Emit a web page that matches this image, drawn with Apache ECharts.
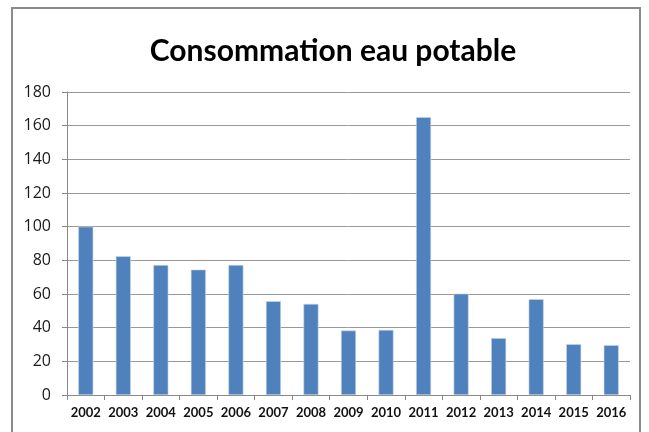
<!DOCTYPE html>
<html><head><meta charset="utf-8">
<script src="https://cdn.jsdelivr.net/npm/echarts@6/dist/echarts.min.js"></script>
<style>html,body{margin:0;padding:0;background:#fff}#c{width:649px;height:432px}</style>
</head><body><div id="c"></div>
<script>
var years = ['2002','2003','2004','2005','2006','2007','2008','2009','2010','2011','2012','2013','2014','2015','2016'];
var consommation = [100, 82.4, 77.2, 74.5, 77.2, 55.7, 54.1, 38.3, 38.7, 165.1, 60.2, 33.8, 56.9, 30.2, 29.6];
var yTicks = [0, 20, 40, 60, 80, 100, 120, 140, 160, 180];

var chart = echarts.init(document.getElementById('c'), null, {renderer: 'canvas'});
chart.setOption({
  animation: false,
  backgroundColor: '#fff',
  title: {
    text: 'Consommation eau potable',
    left: 328, top: 31, textAlign: 'center',
    textStyle: {fontFamily: 'Lato', fontWeight: 'bold', fontSize: 30, color: '#000'}
  },
  graphic: [{
    type: 'rect', shape: {x: 12, y: 8, width: 628, height: 440},
    style: {fill: 'none', stroke: '#8a8a8a', lineWidth: 2}, silent: true
  }],
  grid: {left: 67, right: 19, top: 92, bottom: 37, containLabel: false},
  xAxis: {
    type: 'category', data: years,
    axisLine: {lineStyle: {color: '#888', width: 1}},
    axisTick: {show: true, alignWithLabel: false, length: 5, lineStyle: {color: '#888'}},
    axisLabel: {interval: 0, hideOverlap: false, fontFamily: 'Lato', fontWeight: 'bold', fontSize: 13, color: '#111', margin: 11}
  },
  yAxis: {
    type: 'value', min: 0, max: 180, interval: 20,
    axisLine: {show: true, lineStyle: {color: '#888'}},
    axisTick: {show: true, length: 5, lineStyle: {color: '#888'}},
    axisLabel: {fontFamily: 'Open Sans', fontSize: 16, color: '#1a1a1a', margin: 16,
      formatter: function (v) { return yTicks.indexOf(v) >= 0 ? String(v) : ''; }},
    splitLine: {show: true, lineStyle: {color: '#999', width: 1}}
  },
  series: [{
    type: 'bar', data: consommation, barWidth: 15,
    itemStyle: {color: '#4F81BD', borderColor: '#c9d7ea', borderWidth: 0.6}
  }]
});
</script></body></html>
